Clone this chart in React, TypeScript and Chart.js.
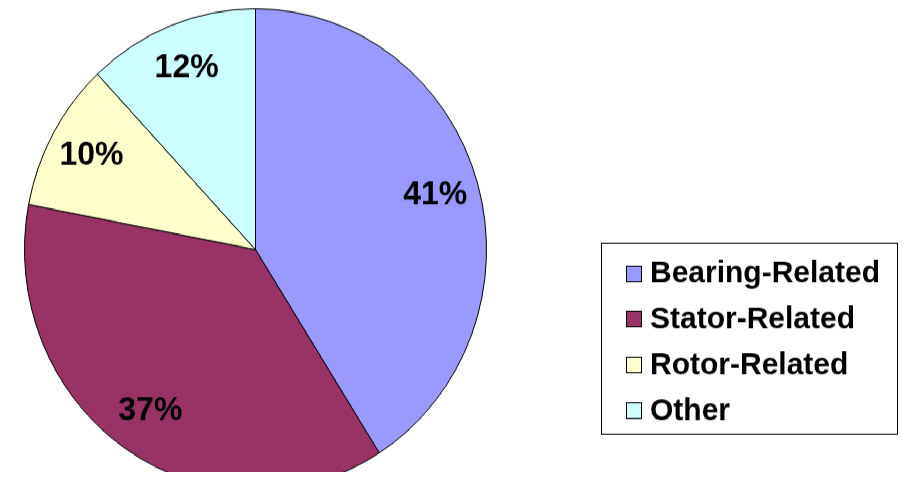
import React, { useEffect, useRef } from "react";
import { Chart, registerables } from "chart.js";

Chart.register(...registerables);

const categories = ["Bearing-Related", "Stator-Related", "Rotor-Related", "Other"];
const shares = [41, 37, 10, 12];
const sliceColors = ["#9999FF", "#993366", "#FFFFCC", "#CCFFFF"];

const FONT = '"Liberation Sans", Arial, sans-serif';

const sliceLabelPlugin = {
  id: "sliceLabels",
  afterDatasetsDraw(chart: any) {
    const ctx = chart.ctx;
    const meta = chart.getDatasetMeta(0);
    const data = chart.data.datasets[0].data as number[];
    ctx.save();
    ctx.font = `bold 32px ${FONT}`;
    ctx.fillStyle = "#000";
    ctx.textAlign = "center";
    ctx.textBaseline = "middle";
    meta.data.forEach((arc: any, i: number) => {
      const { x, y, startAngle, endAngle, outerRadius } = arc.getProps(
        ["x", "y", "startAngle", "endAngle", "outerRadius"],
        true
      );
      const mid = (startAngle + endAngle) / 2;
      const r = outerRadius * 0.81;
      ctx.fillText(`${data[i]}%`, x + Math.cos(mid) * r, y + Math.sin(mid) * r);
    });
    ctx.restore();
  },
};

const boxLegendPlugin = {
  id: "boxLegend",
  afterDraw(chart: any) {
    const ctx = chart.ctx;
    const labels = chart.data.labels as string[];
    const colors = chart.data.datasets[0].backgroundColor as string[];
    const left = 601;
    const top = 233;
    const width = 296;
    const height = 183;
    const firstRow = 262;
    const step = 43.8;
    ctx.save();
    ctx.strokeStyle = "#000";
    ctx.lineWidth = 1;
    ctx.strokeRect(left + 0.5, top + 0.5, width, height);
    ctx.font = `bold 30px ${FONT}`;
    ctx.textAlign = "left";
    ctx.textBaseline = "middle";
    labels.forEach((label, i) => {
      const cy = firstRow + i * step;
      ctx.fillStyle = colors[i];
      ctx.fillRect(626, Math.round(cy - 7.5), 15, 15);
      ctx.strokeStyle = "#000";
      ctx.strokeRect(626.5, Math.round(cy - 7.5) + 0.5, 15, 15);
      ctx.fillStyle = "#000";
      ctx.fillText(label, 650, cy + 1);
    });
    ctx.restore();
  },
};

export default function App() {
  const canvasRef = useRef<HTMLCanvasElement>(null);

  useEffect(() => {
    document.body.style.margin = "0";
    const canvas = canvasRef.current;
    if (!canvas) return;
    const chart = new Chart(canvas, {
      type: "pie",
      data: {
        labels: categories,
        datasets: [
          {
            data: shares,
            backgroundColor: sliceColors,
            borderColor: "#000",
            borderWidth: 1,
          },
        ],
      },
      options: {
        responsive: false,
        animation: false,
        events: [],
        layout: { padding: { left: 24, top: 8, right: 423, bottom: 1 } },
        plugins: {
          legend: { display: false },
          tooltip: { enabled: false },
        },
      },
      plugins: [sliceLabelPlugin, boxLegendPlugin],
    });
    return () => chart.destroy();
  }, []);

  return (
    <div
      style={{
        width: 910,
        height: 472,
        transform: "scaleY(1.0424)",
        transformOrigin: "top left",
        background: "#fff",
      }}
    >
      <canvas ref={canvasRef} width={910} height={472} />
    </div>
  );
}
